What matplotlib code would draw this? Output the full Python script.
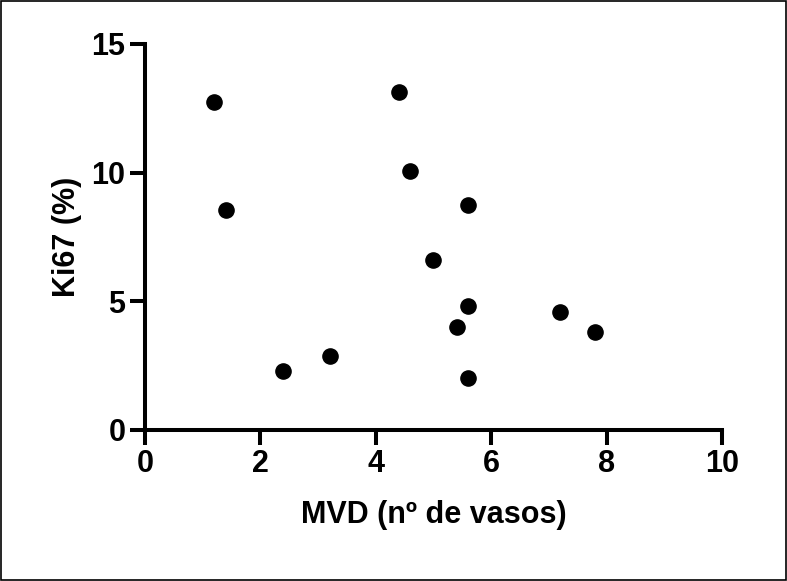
import matplotlib
matplotlib.use("Agg")
import matplotlib.pyplot as plt
from matplotlib.patches import Rectangle

# data
mvd = [1.2, 1.4, 2.4, 3.2, 4.4, 4.6, 5.0, 5.4, 5.6, 5.6, 5.6, 7.2, 7.8]
ki67 = [12.75, 8.55, 2.3, 2.88, 13.12, 10.07, 6.6, 4.0, 8.75, 4.8, 2.02, 4.6, 3.8]
xticks = [0, 2, 4, 6, 8, 10]
yticks = [0, 5, 10, 15]

plt.rcParams['font.family'] = ['Liberation Sans', 'DejaVu Sans']
plt.rcParams['font.weight'] = 'bold'

fig = plt.figure(figsize=(7.87, 5.81), dpi=100)
ax = fig.add_axes([0.1842, 0.2599, 0.7332, 0.6644])

ax.scatter(mvd, ki67, s=120, color='black', zorder=3, clip_on=False)

ax.set_xlim(0, 10)
ax.set_ylim(0, 15)
ax.set_xticks(xticks)
ax.set_yticks(yticks)
for s in ['top', 'right']:
    ax.spines[s].set_visible(False)
for s in ['left', 'bottom']:
    ax.spines[s].set_linewidth(2.9)
ax.tick_params(width=2.9, length=11, labelsize=22, pad=3)
for lab in ax.get_xticklabels() + ax.get_yticklabels():
    lab.set_fontweight('bold')

ax.set_xlabel('MVD (nº de vasos)', fontsize=22, fontweight='bold', labelpad=15)
ax.set_ylabel('Ki67 (%)', fontsize=22, fontweight='bold', labelpad=7)

# thin frame round the whole picture
fig.patches.append(Rectangle((0.001, 0.001), 0.998, 0.997, transform=fig.transFigure,
                             fill=False, edgecolor='black', linewidth=1.2))

fig.savefig('out.png', dpi=100)
